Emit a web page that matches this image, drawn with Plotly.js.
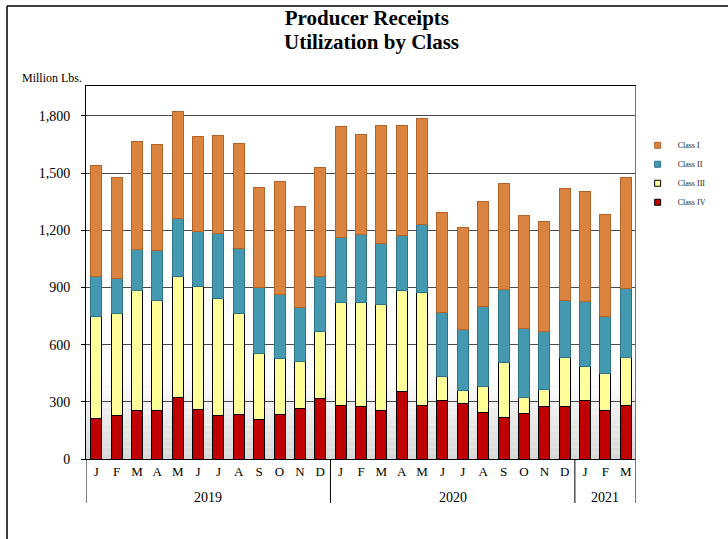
<!DOCTYPE html>
<html>
<head>
<meta charset="utf-8">
<script src="https://cdn.plot.ly/plotly-3.0.1.min.js"></script>
<style>html,body{margin:0;padding:0;background:#fff;}#chart{width:728px;height:539px;}</style>
</head>
<body>
<div id="chart"></div>
<script>
// ---- data ----
const periods = ['Jan 2019','Feb 2019','Mar 2019','Apr 2019','May 2019','Jun 2019','Jul 2019','Aug 2019','Sep 2019','Oct 2019','Nov 2019','Dec 2019',
                 'Jan 2020','Feb 2020','Mar 2020','Apr 2020','May 2020','Jun 2020','Jul 2020','Aug 2020','Sep 2020','Oct 2020','Nov 2020','Dec 2020',
                 'Jan 2021','Feb 2021','Mar 2021'];
const monthLabels = ['J','F','M','A','M','J','J','A','S','O','N','D',
                     'J','F','M','A','M','J','J','A','S','O','N','D',
                     'J','F','M'];
const years = ['2019','2020','2021'];
const yearMonthCounts = [12, 12, 3];

const classI   = [585,531,566,559,559,498,514,554,526,593,532,571,
                  582,526,619,576,559,524,531,551,556,592,577,587,
                  577,535,582];
const classII  = [210,182,218,258,308,287,341,338,344,337,279,287,
                  341,355,316,289,355,334,320,417,386,364,306,299,
                  342,297,360];
const classIII = [536,538,631,582,631,646,615,534,350,292,247,356,
                  540,550,560,531,591,126,70,138,285,85,91,261,
                  178,194,255];
const classIV  = [210,227,252,252,325,259,227,231,206,236,267,315,
                  283,273,253,353,283,309,292,245,220,238,274,274,
                  308,257,280];

const yTicks = [0,300,600,900,1200,1500,1800];
const titleLine1 = 'Producer Receipts';
const titleLine2 = 'Utilization by Class';

// ---- styles ----
const serif = 'Liberation Serif, Times New Roman, serif';
const series = [
  {name:'Class IV',  y:classIV,  fill:'#C00000', line:'#000000'},
  {name:'Class III', y:classIII, fill:'#FFFF99', line:'#000000'},
  {name:'Class II',  y:classII,  fill:'#4499B0', line:'#2E7485'},
  {name:'Class I',   y:classI,   fill:'#DA843F', line:'#B0642A'}
];

const traces = series.map(s => ({
  type:'bar', x:periods, y:s.y, name:s.name, showlegend:false,
  marker:{color:s.fill, line:{color:s.line, width:1}},
  hoverinfo:'y+name'
}));
// legend entries (small square swatches)
series.slice().reverse().forEach(s => {
  traces.push({type:'scatter', mode:'markers', x:[periods[0]], y:[null], name:s.name,
    marker:{symbol:'square', size:6, color:s.fill, line:{color:(s.name==='Class I'||s.name==='Class II')?s.line:'#000', width:1}},
    showlegend:true, hoverinfo:'skip'});
});

// background gradient near the base
const shapes = [];
const gradTop = 420, steps = 14;
for (let i = 0; i < steps; i++) {
  const t = i / steps;
  const g = Math.round(216 + (255 - 216) * t);
  shapes.push({type:'rect', layer:'below', xref:'paper', yref:'y', x0:0, x1:1,
    y0: gradTop * i / steps, y1: gradTop * (i + 1) / steps,
    fillcolor:`rgb(${g},${g},${g})`, line:{width:0}});
}
// year dividers
const dividerBottom = -0.118;
let start = 0;
const annotations = [];
const dividerPos = [-0.5];
yearMonthCounts.forEach((n, k) => {
  annotations.push({xref:'x', yref:'paper', x:start + (n - 1) / 2, y:-0.102, text:years[k],
    showarrow:false, font:{family:serif, size:14, color:'#000'}, yanchor:'middle'});
  start += n;
  dividerPos.push(start - 0.5);
});
dividerPos.forEach((p, k) => {
  const last = k === dividerPos.length - 1;
  shapes.push({type:'line', xref:'x', yref:'paper', x0:p, x1:p, y0: last ? 1 : 0, y1:dividerBottom,
    line:{color: last ? '#777' : '#000', width: last ? 2 : 1}});
});
// outer frame (left and top)
shapes.push({type:'line', xref:'paper', yref:'paper', x0:-0.1436, x1:1.2, y0:1.2145, y1:1.2145, line:{color:'#000', width:1.5}});
shapes.push({type:'line', xref:'paper', yref:'paper', x0:-0.1436, x1:-0.1436, y0:1.2145, y1:-0.25, line:{color:'#000', width:1.5}});

annotations.push({xref:'paper', yref:'paper', x:-0.12, y:1.0214, xanchor:'left', yanchor:'middle',
  text:'Million Lbs.', showarrow:false, font:{family:serif, size:12, color:'#000'}});
// second title line (tight line spacing as in the reference)
annotations.push({xref:'paper', yref:'paper', x:0.5185, y:1.119, xanchor:'center', yanchor:'middle',
  text:'<b>' + titleLine2 + '</b>', showarrow:false, font:{family:serif, size:21, color:'#000'}});

const layout = {
  width:728, height:539,
  margin:{l:86, r:92, t:86, b:80, pad:0},
  paper_bgcolor:'#fff', plot_bgcolor:'rgba(0,0,0,0)',
  title:{text:'<b>' + titleLine1 + '</b>', x:0.504, xanchor:'center',
    y:0.9665, yanchor:'middle', yref:'container', font:{family:serif, size:21, color:'#000'}},
  barmode:'stack', bargap:0.46,
  xaxis:{type:'category', tickvals:periods, ticktext:monthLabels, tickangle:0,
    range:[-0.5, periods.length - 0.5], showgrid:false, ticks:'',
    showline:true, linecolor:'#000', linewidth:1, mirror:true,
    tickfont:{family:serif, size:13, color:'#000'}, fixedrange:true},
  yaxis:{range:[0,1957], tickvals:yTicks, tickformat:',', showgrid:true, gridcolor:'#4a4a4a', gridwidth:1,
    zeroline:false, showline:true, linecolor:'#000', linewidth:1,
    ticks:'outside', ticklen:4, tickcolor:'#000', ticklabelstandoff:8,
    tickfont:{family:serif, size:14, color:'#000'}, fixedrange:true},
  legend:{x:1.003, xanchor:'left', y:0.88, yanchor:'top', traceorder:'normal',
    font:{family:serif, size:8, color:'#222'}, bgcolor:'rgba(0,0,0,0)', itemwidth:30, tracegroupgap:0},
  shapes:shapes, annotations:annotations, showlegend:true
};

Plotly.newPlot('chart', traces, layout, {displayModeBar:false, staticPlot:true});
</script>
</body>
</html>
